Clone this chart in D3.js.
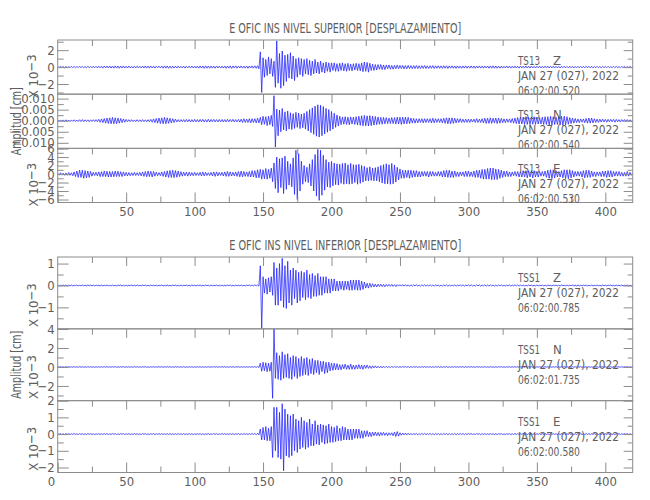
<!DOCTYPE html>
<html><head><meta charset="utf-8">
<script src="https://cdn.jsdelivr.net/npm/d3@7"></script>
<style>body{margin:0;background:#fff}svg{display:block}</style>
</head><body><svg id="c" width="650" height="500"></svg>
<script>
// ---------------- DATA ----------------
const sampleStart = 0;      // seconds
const sampleStep = 1;       // seconds between stored peaks
const xDomain = [0, 420];
const xMajorTicks = [0, 50, 100, 150, 200, 250, 300, 350, 400];
const xMinorTicks = [25, 75, 125, 175, 225, 275, 325, 375];
const topXLabels = [50, 100, 150, 200, 250, 300, 350, 400];
const bottomXLabels = [0, 50, 100, 150, 200, 250, 300, 350, 400];

const groupTitles = ["E OFIC INS NIVEL SUPERIOR [DESPLAZAMIENTO]", "E OFIC INS NIVEL INFERIOR [DESPLAZAMIENTO]"];
const yAxisTitle = "Amplitud [cm]";
const stations = ["TS13", "TS13", "TS13", "TSS1", "TSS1", "TSS1"];
const components = ["Z", "N", "E", "Z", "N", "E"];
const dateLabel = "JAN 27 (027), 2022";
const startTimes = ["06:02:00.520", "06:02:00.540", "06:02:00.530", "06:02:00.785", "06:02:01.735", "06:02:00.580"];
const yDomains = [[-3.2, 3.2], [-0.0125, 0.012], [-6.7, 6.05], [-1.98, 1.3], [-3.55, 4.02], [-2.3, 2.0]];
const yMajorSteps = [2, 0.005, 2, 1, 2, 1];
const yMinorSteps = [1, 0.0025, 1, 0.5, 1, 0.5];
const valueUnits = [1, 0.001, 1, 1, 1, 1];   // stored values are x10^-3
const yFormats = ["d", ".3f", "d", "d", "d", "d"];
const exponentLabel = [true, false, true, true, true, true];

// peak values (x10^-3 cm), one every second from t = 0
const ts13Z = [
0.05,-0.06,0.07,-0.05,0.06,-0.08,0.07,-0.06,0.05,-0.07,0.08,-0.06,0.07,-0.08,0.06,-0.05,0.07,-0.06,0.08,-0.07,
0.06,-0.08,0.09,-0.07,0.08,-0.09,0.1,-0.08,0.09,-0.1,0.11,-0.09,0.1,-0.12,0.11,-0.1,0.12,-0.11,0.13,-0.12,
0.12,-0.13,0.14,-0.12,0.13,-0.14,0.12,-0.11,0.13,-0.12,0.1,-0.11,0.12,-0.1,0.09,-0.11,0.1,-0.09,0.11,-0.1,
0.09,-0.1,0.12,-0.11,0.13,-0.12,0.11,-0.13,0.12,-0.1,0.11,-0.12,0.1,-0.09,0.11,-0.1,0.12,-0.13,0.14,-0.12,
0.13,-0.14,0.12,-0.13,0.11,-0.12,0.1,-0.11,0.12,-0.1,0.09,-0.1,0.11,-0.12,0.1,-0.09,0.11,-0.1,0.12,-0.11,
0.1,-0.11,0.12,-0.13,0.14,-0.12,0.13,-0.15,0.14,-0.13,0.12,-0.14,0.13,-0.12,0.11,-0.13,0.12,-0.11,0.1,-0.12,
0.11,-0.12,0.13,-0.14,0.12,-0.13,0.14,-0.15,0.13,-0.12,0.14,-0.13,0.12,-0.11,0.13,-0.12,0.11,-0.13,0.12,-0.14,
0.13,-0.12,0.14,-0.13,0.15,-0.14,0.16,-0.2,1.8,-3.0,1.1,-1.2,0.9,-1.0,1.2,-0.8,1.0,-1.1,0.7,-2.4,
3.1,-1.9,1.6,-2.5,1.9,-2.2,1.4,-1.7,1.5,-1.3,1.7,-1.4,1.3,-1.6,1.0,-1.2,1.1,-0.9,1.0,-1.1,
0.9,-0.8,1.0,-0.9,0.8,-1.0,0.7,-0.8,0.9,-0.7,0.6,-0.8,0.7,-0.6,0.5,-0.7,0.6,-0.5,0.5,-0.6,
0.5,-0.4,0.5,-0.5,0.4,-0.5,0.45,-0.4,0.5,-0.45,0.4,-0.5,0.45,-0.4,0.35,-0.45,0.4,-0.35,0.45,-0.4,
0.4,-0.45,0.5,-0.55,0.6,-0.5,0.55,-0.6,0.45,-0.4,0.35,-0.4,0.3,-0.35,0.3,-0.25,0.3,-0.3,0.25,-0.3,
0.25,-0.2,0.25,-0.25,0.2,-0.25,0.2,-0.2,0.25,-0.2,0.2,-0.18,0.2,-0.22,0.18,-0.2,0.2,-0.18,0.17,-0.2,
0.18,-0.17,0.19,-0.18,0.16,-0.18,0.17,-0.16,0.18,-0.17,0.15,-0.17,0.16,-0.15,0.17,-0.16,0.15,-0.14,0.16,-0.15,
0.14,-0.15,0.16,-0.14,0.15,-0.16,0.14,-0.13,0.15,-0.14,0.13,-0.15,0.14,-0.13,0.12,-0.14,0.13,-0.12,0.14,-0.13,
0.12,-0.13,0.14,-0.12,0.13,-0.14,0.12,-0.11,0.13,-0.12,0.11,-0.13,0.12,-0.11,0.12,-0.13,0.14,-0.13,0.15,-0.14,
0.13,-0.14,0.12,-0.13,0.11,-0.12,0.1,-0.11,0.12,-0.1,0.11,-0.12,0.1,-0.11,0.12,-0.11,0.1,-0.12,0.11,-0.1,
0.11,-0.1,0.12,-0.11,0.1,-0.12,0.11,-0.1,0.09,-0.11,0.1,-0.09,0.11,-0.1,0.09,-0.1,0.11,-0.09,0.1,-0.11,
0.1,-0.09,0.11,-0.1,0.09,-0.1,0.08,-0.1,0.09,-0.08,0.1,-0.09,0.08,-0.09,0.1,-0.08,0.09,-0.1,0.08,-0.09,
0.09,-0.08,0.1,-0.09,0.08,-0.09,0.1,-0.08,0.09,-0.1,0.08,-0.09,0.07,-0.08,0.09,-0.08,0.07,-0.09,0.08,-0.07,
0.08,-0.07,0.09,-0.08,0.07,-0.08,0.09,-0.07,0.08,-0.07,0.06,-0.08,0.07,-0.06,0.08,-0.07,0.06,-0.07,0.08,-0.06,
0.07];
const ts13N = [
0.3,-0.3,0.35,-0.3,0.3,-0.35,0.4,-0.35,0.3,-0.4,0.35,-0.3,0.4,-0.35,0.3,-0.4,0.45,-0.4,0.5,-0.45,
0.4,-0.35,0.4,-0.45,0.4,-0.35,0.45,-0.4,0.5,-0.45,0.6,-0.7,0.8,-0.9,1.0,-1.1,1.2,-1.3,1.3,-1.4,
1.5,-1.4,1.3,-1.4,1.2,-1.1,1.0,-0.9,0.8,-0.7,0.6,-0.5,0.45,-0.4,0.45,-0.4,0.35,-0.4,0.45,-0.4,
0.4,-0.45,0.5,-0.45,0.4,-0.5,0.45,-0.5,0.6,-0.7,0.8,-0.9,1.0,-1.1,1.2,-1.3,1.3,-1.4,1.5,-1.4,
1.3,-1.2,1.1,-1.0,0.9,-0.8,0.7,-0.6,0.5,-0.55,0.5,-0.45,0.5,-0.55,0.6,-0.5,0.55,-0.6,0.5,-0.55,
0.6,-0.55,0.5,-0.6,0.55,-0.5,0.6,-0.55,0.5,-0.6,0.65,-0.6,0.55,-0.5,0.6,-0.55,0.5,-0.6,0.55,-0.5,
0.55,-0.6,0.5,-0.55,0.6,-0.5,0.55,-0.5,0.6,-0.55,0.5,-0.55,0.6,-0.65,0.7,-0.8,0.9,-0.8,0.7,-0.8,
0.9,-1.0,0.9,-0.8,0.9,-1.0,1.1,-1.0,1.5,-1.8,2.0,-1.6,1.8,-2.2,2.0,-1.8,2.4,-2.6,11.3,-11.9,
5.2,-6.8,4.8,-5.0,5.5,-4.2,4.0,-4.6,4.4,-3.8,3.6,-4.0,3.2,-3.5,3.8,-3.0,3.4,-3.6,3.0,-3.2,
3.4,-3.8,4.2,-4.6,5.0,-5.4,5.8,-6.2,6.6,-7.0,7.2,-7.4,7.0,-6.8,6.4,-6.0,5.6,-5.2,5.0,-4.6,
4.2,-3.8,3.4,-3.0,2.6,-2.4,2.0,-1.8,1.7,-1.6,1.8,-1.7,1.6,-1.8,1.7,-1.5,1.6,-1.7,1.8,-1.9,
2.0,-2.1,2.2,-2.3,2.4,-2.3,2.2,-2.4,2.3,-2.2,2.1,-2.0,1.9,-1.8,1.7,-1.6,1.5,-1.6,1.5,-1.4,
1.4,-1.3,1.2,-1.3,1.4,-1.3,1.4,-1.5,1.6,-1.5,1.6,-1.7,1.6,-1.5,1.6,-1.4,1.5,-1.3,1.2,-1.1,
1.0,-1.1,0.9,-1.0,0.9,-0.8,0.9,-1.0,0.9,-0.8,0.9,-0.8,0.9,-1.0,1.1,-1.0,0.9,-0.8,0.9,-0.8,
0.9,-1.0,1.1,-1.2,1.3,-1.4,1.3,-1.4,1.3,-1.2,1.1,-1.0,0.9,-0.8,0.9,-0.8,0.7,-0.8,0.7,-0.8,
0.7,-0.8,0.7,-0.6,0.7,-0.8,0.9,-0.8,0.7,-0.8,0.9,-1.0,1.1,-1.2,1.1,-1.2,1.3,-1.2,1.1,-1.0,
1.2,-1.3,1.2,-1.1,1.0,-0.9,0.8,-0.9,0.8,-0.7,0.8,-0.9,1.0,-1.1,1.2,-1.3,1.4,-1.5,1.6,-1.5,
1.6,-1.7,1.8,-1.7,1.6,-1.8,1.7,-1.6,1.8,-1.7,1.6,-1.5,1.4,-1.5,1.6,-1.7,1.8,-1.7,1.8,-1.9,
2.0,-1.9,1.8,-1.7,1.6,-1.7,1.8,-1.9,2.0,-2.1,2.0,-1.9,1.8,-1.6,1.4,-1.3,1.2,-1.1,1.0,-0.9,
0.8,-0.9,0.8,-0.7,0.8,-0.9,1.0,-1.1,1.2,-1.1,1.2,-1.0,0.9,-0.8,0.7,-0.8,0.7,-0.6,0.7,-0.6,
0.6,-0.7,0.6,-0.5,0.6,-0.5,0.6,-0.7,0.6,-0.5,0.5,-0.6,0.5,-0.4,0.5,-0.4,0.5,-0.4,0.4,-0.5,
0.4];
const ts13E = [
0.2,-0.25,0.3,-0.25,0.2,-0.3,0.25,-0.3,0.35,-0.3,0.3,-0.4,0.5,-0.6,0.7,-0.8,0.9,-0.8,0.9,-1.0,
0.8,-0.9,0.7,-0.8,0.6,-0.5,0.4,-0.35,0.4,-0.45,0.5,-0.6,0.55,-0.6,0.7,-0.6,0.65,-0.7,0.6,-0.7,
0.6,-0.65,0.7,-0.6,0.65,-0.6,0.55,-0.6,0.5,-0.45,0.4,-0.45,0.35,-0.4,0.3,-0.35,0.4,-0.35,0.3,-0.35,
0.4,-0.45,0.5,-0.55,0.6,-0.65,0.7,-0.6,0.65,-0.7,0.6,-0.5,0.45,-0.4,0.35,-0.4,0.5,-0.55,0.6,-0.7,
0.75,-0.8,0.85,-0.8,0.9,-0.85,0.8,-0.75,0.7,-0.6,0.55,-0.5,0.45,-0.4,0.45,-0.5,0.45,-0.4,0.35,-0.4,
0.4,-0.35,0.3,-0.35,0.4,-0.45,0.5,-0.45,0.4,-0.35,0.3,-0.35,0.4,-0.45,0.5,-0.55,0.5,-0.45,0.4,-0.35,
0.4,-0.45,0.5,-0.55,0.6,-0.55,0.5,-0.45,0.4,-0.45,0.5,-0.55,0.6,-0.65,0.7,-0.65,0.6,-0.55,0.5,-0.6,
0.6,-0.7,0.8,-0.7,0.8,-0.9,1.0,-0.9,1.1,-1.2,1.0,-1.1,1.3,-1.2,1.1,-1.0,1.4,-1.8,2.6,-3.4,
4.0,-4.4,3.6,-3.2,3.8,-4.6,4.2,-3.6,3.0,-2.6,2.4,-3.0,3.8,-4.8,5.6,-6.0,4.8,-4.0,3.0,-2.4,
2.0,-1.8,1.6,-2.0,2.4,-2.8,3.4,-4.0,4.6,-5.2,5.8,-6.2,5.6,-5.0,4.4,-3.8,3.4,-3.0,2.8,-3.2,
3.0,-2.8,2.6,-2.5,2.4,-2.6,2.3,-2.2,2.5,-2.4,2.6,-2.3,2.2,-2.4,2.5,-2.3,2.2,-2.0,2.2,-2.4,
2.3,-2.2,2.0,-1.9,1.8,-1.6,1.5,-1.6,1.7,-1.5,1.4,-1.6,1.5,-1.6,1.7,-1.8,2.0,-2.1,2.2,-2.3,
2.4,-2.3,2.2,-2.4,2.5,-2.3,2.1,-1.9,1.6,-1.4,1.2,-1.0,0.9,-1.0,0.9,-0.8,0.9,-1.0,0.9,-0.8,
0.8,-0.7,0.8,-0.7,0.6,-0.7,0.6,-0.5,0.6,-0.5,0.6,-0.7,0.6,-0.5,0.6,-0.5,0.4,-0.5,0.6,-0.5,
0.6,-0.7,0.8,-0.7,0.9,-0.8,0.9,-0.8,0.7,-0.8,0.7,-0.6,0.5,-0.6,0.5,-0.4,0.5,-0.6,0.7,-0.6,
0.7,-0.6,0.5,-0.6,0.7,-0.8,0.9,-0.8,0.9,-1.0,1.1,-1.2,1.1,-1.2,1.3,-1.2,1.4,-1.3,1.4,-1.3,
1.2,-1.3,1.1,-1.0,0.9,-0.8,0.7,-0.6,0.7,-0.6,0.5,-0.6,0.5,-0.4,0.6,-0.5,0.6,-0.7,0.6,-0.7,
0.8,-0.7,0.8,-0.9,0.8,-0.7,0.8,-0.9,0.8,-0.7,0.6,-0.7,0.6,-0.5,0.6,-0.5,0.7,-0.8,0.9,-1.0,
1.0,-1.1,1.0,-0.9,0.8,-0.7,0.6,-0.7,0.8,-0.9,1.0,-1.1,1.0,-1.1,1.0,-0.9,0.8,-0.7,0.6,-0.5,
0.6,-0.5,0.6,-0.7,0.8,-0.9,0.9,-0.8,0.9,-0.8,0.7,-0.6,0.5,-0.6,0.5,-0.4,0.5,-0.6,0.7,-0.6,
0.7,-0.8,0.8,-0.7,0.8,-0.7,0.6,-0.5,0.6,-0.5,0.6,-0.5,0.4,-0.5,0.4,-0.5,0.6,-0.5,0.4,-0.3,
0.3];
const tss1Z = [
0.02,-0.02,0.01,-0.02,0.02,-0.01,0.02,-0.02,0.01,-0.02,0.02,-0.02,0.01,-0.01,0.02,-0.02,0.01,-0.02,0.02,-0.01,
0.01,-0.02,0.02,-0.01,0.02,-0.02,0.01,-0.02,0.02,-0.01,0.01,-0.02,0.02,-0.02,0.01,-0.01,0.02,-0.02,0.01,-0.02,
0.02,-0.02,0.01,-0.02,0.02,-0.01,0.02,-0.02,0.01,-0.02,0.02,-0.02,0.01,-0.01,0.02,-0.02,0.01,-0.02,0.02,-0.01,
0.01,-0.02,0.02,-0.01,0.02,-0.02,0.01,-0.02,0.02,-0.01,0.01,-0.02,0.02,-0.02,0.01,-0.01,0.02,-0.02,0.01,-0.02,
0.02,-0.02,0.01,-0.02,0.02,-0.01,0.02,-0.02,0.01,-0.02,0.02,-0.02,0.01,-0.01,0.02,-0.02,0.01,-0.02,0.02,-0.01,
0.01,-0.02,0.02,-0.01,0.02,-0.02,0.01,-0.02,0.02,-0.01,0.01,-0.02,0.02,-0.02,0.01,-0.01,0.02,-0.02,0.01,-0.02,
0.02,-0.02,0.01,-0.02,0.02,-0.01,0.02,-0.02,0.01,-0.02,0.02,-0.02,0.01,-0.01,0.02,-0.02,0.01,-0.02,0.02,-0.01,
0.02,-0.02,0.02,-0.02,0.03,-0.02,0.03,-0.03,0.9,-1.95,0.4,-0.35,0.3,-0.4,0.35,-0.3,0.4,-0.45,1.05,-0.9,
0.8,-0.9,1.0,-0.7,1.24,-1.0,0.9,-1.05,1.1,-0.8,0.7,-0.9,0.8,-0.6,0.7,-0.8,0.6,-0.7,0.65,-0.55,
0.6,-0.65,0.7,-0.55,0.5,-0.6,0.55,-0.5,0.45,-0.5,0.55,-0.45,0.4,-0.45,0.4,-0.35,0.4,-0.35,0.3,-0.35,
0.3,-0.25,0.3,-0.25,0.2,-0.25,0.2,-0.18,0.2,-0.22,0.2,-0.18,0.2,-0.22,0.25,-0.22,0.25,-0.2,0.25,-0.22,
0.25,-0.22,0.2,-0.18,0.15,-0.12,0.1,-0.12,0.1,-0.08,0.08,-0.07,0.06,-0.07,0.06,-0.05,0.06,-0.05,0.05,-0.06,
0.05,-0.04,0.05,-0.04,0.05,-0.04,0.04,-0.05,0.04,-0.03,0.04,-0.03,0.04,-0.03,0.04,-0.03,0.03,-0.04,0.03,-0.03,
0.03,-0.02,0.03,-0.03,0.02,-0.03,0.03,-0.02,0.03,-0.03,0.02,-0.02,0.03,-0.03,0.02,-0.03,0.03,-0.02,0.02,-0.03,
0.02,-0.03,0.03,-0.02,0.03,-0.03,0.02,-0.03,0.02,-0.02,0.03,-0.03,0.02,-0.02,0.03,-0.02,0.03,-0.03,0.02,-0.02,
0.03,-0.02,0.03,-0.03,0.02,-0.03,0.03,-0.02,0.03,-0.03,0.02,-0.02,0.03,-0.03,0.02,-0.03,0.03,-0.02,0.02,-0.03,
0.02,-0.03,0.03,-0.02,0.03,-0.03,0.02,-0.03,0.02,-0.02,0.03,-0.03,0.02,-0.02,0.03,-0.02,0.03,-0.03,0.02,-0.02,
0.02,-0.02,0.01,-0.02,0.02,-0.01,0.02,-0.02,0.01,-0.02,0.02,-0.02,0.01,-0.01,0.02,-0.02,0.01,-0.02,0.02,-0.01,
0.01,-0.02,0.02,-0.01,0.02,-0.02,0.01,-0.02,0.02,-0.01,0.01,-0.02,0.02,-0.02,0.01,-0.01,0.02,-0.02,0.01,-0.02,
0.02,-0.02,0.01,-0.02,0.02,-0.01,0.02,-0.02,0.01,-0.02,0.02,-0.02,0.01,-0.01,0.02,-0.02,0.01,-0.02,0.02,-0.01,
0.01,-0.02,0.02,-0.01,0.02,-0.02,0.01,-0.02,0.02,-0.01,0.01,-0.02,0.02,-0.02,0.01,-0.01,0.02,-0.02,0.01,-0.02,
0.02];
const tss1N = [
0.03,-0.02,0.03,-0.03,0.02,-0.03,0.03,-0.02,0.03,-0.03,0.02,-0.02,0.03,-0.03,0.02,-0.03,0.03,-0.02,0.02,-0.03,
0.02,-0.03,0.03,-0.02,0.03,-0.03,0.02,-0.03,0.02,-0.02,0.03,-0.03,0.02,-0.02,0.03,-0.02,0.03,-0.03,0.02,-0.02,
0.03,-0.02,0.03,-0.03,0.02,-0.03,0.03,-0.02,0.03,-0.03,0.02,-0.02,0.03,-0.03,0.02,-0.03,0.03,-0.02,0.02,-0.03,
0.02,-0.03,0.03,-0.02,0.03,-0.03,0.02,-0.03,0.02,-0.02,0.03,-0.03,0.02,-0.02,0.03,-0.02,0.03,-0.03,0.02,-0.02,
0.03,-0.02,0.03,-0.03,0.02,-0.03,0.03,-0.02,0.03,-0.03,0.02,-0.02,0.03,-0.03,0.02,-0.03,0.03,-0.02,0.02,-0.03,
0.02,-0.03,0.03,-0.02,0.03,-0.03,0.02,-0.03,0.02,-0.02,0.03,-0.03,0.02,-0.02,0.03,-0.02,0.03,-0.03,0.02,-0.02,
0.03,-0.02,0.03,-0.03,0.02,-0.03,0.03,-0.02,0.03,-0.03,0.02,-0.02,0.03,-0.03,0.02,-0.03,0.03,-0.02,0.02,-0.03,
0.03,-0.03,0.03,-0.03,0.04,-0.03,0.04,-0.05,0.4,-0.45,0.5,-0.4,0.45,-0.5,0.4,-0.45,0.5,-3.3,4.0,-1.2,
1.5,-1.3,1.2,-1.4,1.6,-1.2,1.3,-1.1,1.4,-1.2,1.0,-1.3,1.2,-1.0,1.1,-1.2,0.9,-1.0,1.1,-0.9,
0.9,-0.8,1.0,-0.9,0.8,-0.7,0.9,-0.8,0.7,-0.6,0.7,-0.8,0.6,-0.5,0.6,-0.7,0.5,-0.6,0.5,-0.4,
0.4,-0.35,0.4,-0.3,0.35,-0.3,0.25,-0.3,0.25,-0.2,0.3,-0.25,0.2,-0.25,0.3,-0.25,0.2,-0.25,0.2,-0.2,
0.25,-0.2,0.2,-0.25,0.2,-0.15,0.2,-0.15,0.12,-0.15,0.12,-0.1,0.12,-0.1,0.08,-0.1,0.08,-0.1,0.08,-0.07,
0.08,-0.07,0.06,-0.07,0.06,-0.05,0.06,-0.05,0.05,-0.06,0.05,-0.04,0.05,-0.04,0.05,-0.04,0.04,-0.05,0.04,-0.04,
0.04,-0.03,0.04,-0.04,0.03,-0.04,0.04,-0.03,0.04,-0.04,0.03,-0.03,0.04,-0.04,0.03,-0.04,0.04,-0.03,0.03,-0.04,
0.03,-0.04,0.04,-0.03,0.04,-0.04,0.03,-0.04,0.03,-0.03,0.04,-0.04,0.03,-0.03,0.04,-0.03,0.04,-0.04,0.03,-0.03,
0.03,-0.02,0.03,-0.03,0.02,-0.03,0.03,-0.02,0.03,-0.03,0.02,-0.02,0.03,-0.03,0.02,-0.03,0.03,-0.02,0.02,-0.03,
0.02,-0.03,0.03,-0.02,0.03,-0.03,0.02,-0.03,0.02,-0.02,0.03,-0.03,0.02,-0.02,0.03,-0.02,0.03,-0.03,0.02,-0.02,
0.03,-0.02,0.03,-0.03,0.02,-0.03,0.03,-0.02,0.03,-0.03,0.02,-0.02,0.03,-0.03,0.02,-0.03,0.03,-0.02,0.02,-0.03,
0.02,-0.03,0.03,-0.02,0.03,-0.03,0.02,-0.03,0.02,-0.02,0.03,-0.03,0.02,-0.02,0.03,-0.02,0.03,-0.03,0.02,-0.02,
0.03,-0.02,0.03,-0.03,0.02,-0.03,0.03,-0.02,0.03,-0.03,0.02,-0.02,0.03,-0.03,0.02,-0.03,0.03,-0.02,0.02,-0.03,
0.02,-0.03,0.03,-0.02,0.03,-0.03,0.02,-0.03,0.02,-0.02,0.03,-0.03,0.02,-0.02,0.03,-0.02,0.03,-0.03,0.02,-0.02,
0.03];
const tss1E = [
0.03,-0.02,0.03,-0.03,0.02,-0.03,0.03,-0.02,0.03,-0.03,0.02,-0.02,0.03,-0.03,0.02,-0.03,0.03,-0.02,0.02,-0.03,
0.02,-0.03,0.03,-0.02,0.03,-0.03,0.02,-0.03,0.02,-0.02,0.03,-0.03,0.02,-0.02,0.03,-0.02,0.03,-0.03,0.02,-0.02,
0.03,-0.02,0.03,-0.03,0.02,-0.03,0.03,-0.02,0.03,-0.03,0.02,-0.02,0.03,-0.03,0.02,-0.03,0.03,-0.02,0.02,-0.03,
0.02,-0.03,0.03,-0.02,0.03,-0.03,0.02,-0.03,0.02,-0.02,0.03,-0.03,0.02,-0.02,0.03,-0.02,0.03,-0.03,0.02,-0.02,
0.03,-0.02,0.03,-0.03,0.02,-0.03,0.03,-0.02,0.03,-0.03,0.02,-0.02,0.03,-0.03,0.02,-0.03,0.03,-0.02,0.02,-0.03,
0.02,-0.03,0.03,-0.02,0.03,-0.03,0.02,-0.03,0.02,-0.02,0.03,-0.03,0.02,-0.02,0.03,-0.02,0.03,-0.03,0.02,-0.02,
0.03,-0.02,0.03,-0.03,0.02,-0.03,0.03,-0.02,0.03,-0.03,0.02,-0.02,0.03,-0.03,0.02,-0.03,0.03,-0.02,0.02,-0.03,
0.03,-0.03,0.04,-0.03,0.04,-0.04,0.05,-0.05,0.3,-0.35,0.4,-0.35,0.45,-0.4,0.35,-0.4,0.45,-1.4,1.6,-1.0,
1.6,-1.4,1.3,-1.5,1.82,-2.2,1.5,-1.3,1.2,-1.4,1.1,-1.3,1.2,-1.0,0.9,-1.1,0.8,-0.9,1.0,-0.8,
0.8,-0.9,0.7,-0.8,0.9,-0.7,0.6,-0.7,0.8,-0.6,0.55,-0.65,0.6,-0.5,0.55,-0.6,0.5,-0.55,0.6,-0.5,
0.45,-0.5,0.4,-0.45,0.5,-0.4,0.35,-0.4,0.45,-0.35,0.4,-0.35,0.3,-0.35,0.3,-0.35,0.3,-0.25,0.3,-0.25,
0.3,-0.25,0.2,-0.25,0.2,-0.15,0.2,-0.15,0.12,-0.15,0.12,-0.1,0.12,-0.1,0.1,-0.12,0.1,-0.08,0.1,-0.08,
0.08,-0.1,0.08,-0.07,0.08,-0.1,0.12,-0.15,0.15,-0.12,0.08,-0.07,0.06,-0.05,0.06,-0.05,0.05,-0.05,0.04,-0.05,
0.04,-0.03,0.04,-0.04,0.03,-0.04,0.04,-0.03,0.04,-0.04,0.03,-0.03,0.04,-0.04,0.03,-0.04,0.04,-0.03,0.03,-0.04,
0.03,-0.04,0.04,-0.03,0.04,-0.04,0.03,-0.04,0.03,-0.03,0.04,-0.04,0.03,-0.03,0.04,-0.03,0.04,-0.04,0.03,-0.03,
0.03,-0.02,0.03,-0.03,0.02,-0.03,0.03,-0.02,0.03,-0.03,0.02,-0.02,0.03,-0.03,0.02,-0.03,0.03,-0.02,0.02,-0.03,
0.02,-0.03,0.03,-0.02,0.03,-0.03,0.02,-0.03,0.02,-0.02,0.03,-0.03,0.02,-0.02,0.03,-0.02,0.03,-0.03,0.02,-0.02,
0.03,-0.02,0.03,-0.03,0.02,-0.03,0.03,-0.02,0.03,-0.03,0.02,-0.02,0.03,-0.03,0.02,-0.03,0.03,-0.02,0.02,-0.03,
0.02,-0.03,0.03,-0.02,0.03,-0.03,0.02,-0.03,0.02,-0.02,0.03,-0.03,0.02,-0.02,0.03,-0.02,0.03,-0.03,0.02,-0.02,
0.03,-0.02,0.03,-0.03,0.02,-0.03,0.03,-0.02,0.03,-0.03,0.02,-0.02,0.03,-0.03,0.02,-0.03,0.03,-0.02,0.02,-0.03,
0.02,-0.03,0.03,-0.02,0.03,-0.03,0.02,-0.03,0.02,-0.02,0.03,-0.03,0.02,-0.02,0.03,-0.02,0.03,-0.03,0.02,-0.02,
0.03];
const traces = [ts13Z, ts13N, ts13E, tss1Z, tss1N, tss1E];

// ---------------- DRAWING ----------------
const AXIS = "#8c8c8c", TEXT = "#5e5e5e", TRACE = "#2020ff";
const FONT = "'Liberation Sans Narrow','DejaVu Sans Condensed','Arial Narrow',sans-serif";
const plotLeft = 57.7, plotRight = 632.7;
const groupBoxes = [{top: 40, bottom: 202.5, labels: topXLabels}, {top: 257, bottom: 472.5, labels: bottomXLabels}];

const svg = d3.select("#c").style("font-family", FONT);
const x = d3.scaleLinear().domain(xDomain).range([plotLeft, plotRight]);

function stepTicks(dom, step) {
  const lo = Math.ceil(dom[0] / step - 1e-9), hi = Math.floor(dom[1] / step + 1e-9);
  return d3.range(lo, hi + 1).map(k => +(k * step).toFixed(6));
}
function styleAxis(g) {
  g.select(".domain").remove();
  g.selectAll("line").attr("stroke", AXIS).attr("stroke-width", 1);
  g.selectAll("text").attr("fill", TEXT).style("font-family", FONT).style("font-size", "13px");
}

groupBoxes.forEach((gb, gi) => {
  svg.append("text").attr("x", (plotLeft + plotRight) / 2).attr("y", gb.top - 6.7)
    .attr("text-anchor", "middle").attr("fill", TEXT).style("font-size", "13.5px")
    .attr("textLength", 232).attr("lengthAdjust", "spacingAndGlyphs")
    .text(groupTitles[gi]);
  svg.append("text")
    .attr("transform", `translate(20.5,${(gb.top + gb.bottom) / 2}) rotate(-90)`)
    .attr("text-anchor", "middle").attr("fill", TEXT).style("font-size", "14px")
    .attr("textLength", 68).attr("lengthAdjust", "spacingAndGlyphs")
    .text(yAxisTitle);
});

traces.forEach((data, i) => {
  const gi = Math.floor(i / 3), j = i % 3, gb = groupBoxes[gi];
  const h = (gb.bottom - gb.top) / 3;
  const y0 = gb.top + j * h, y1 = y0 + h;
  const y = d3.scaleLinear().domain(yDomains[i]).range([y1, y0]);
  const g = svg.append("g");

  // clip + trace
  const cid = "clip" + i;
  svg.append("clipPath").attr("id", cid).append("rect")
    .attr("x", plotLeft).attr("y", y0).attr("width", plotRight - plotLeft).attr("height", h);
  const line = d3.line()
    .x((d, k) => x(sampleStart + k * sampleStep))
    .y(d => y(d * valueUnits[i]));
  g.append("path").datum(data).attr("clip-path", `url(#${cid})`)
    .attr("d", line).attr("fill", "none").attr("stroke", TRACE)
    .attr("stroke-width", 0.8).attr("stroke-linejoin", "round").attr("opacity", 0.95);

  // frame
  g.append("rect").attr("x", plotLeft).attr("y", y0).attr("width", plotRight - plotLeft).attr("height", h)
    .attr("fill", "none").attr("stroke", AXIS).attr("stroke-width", 1);

  // y axes
  const major = stepTicks(yDomains[i], yMajorSteps[i]);
  const minor = stepTicks(yDomains[i], yMinorSteps[i]).filter(v => !major.some(m => Math.abs(m - v) < 1e-9));
  const fmt = d3.format(yFormats[i]);
  g.append("g").attr("transform", `translate(${plotLeft},0)`)
    .call(d3.axisLeft(y).tickValues(major).tickSize(-11).tickPadding(3).tickFormat(fmt)).call(styleAxis);
  g.append("g").attr("transform", `translate(${plotLeft},0)`)
    .call(d3.axisLeft(y).tickValues(minor).tickSize(-6).tickFormat("")).call(styleAxis);
  g.append("g").attr("transform", `translate(${plotRight},0)`)
    .call(d3.axisRight(y).tickValues(major).tickSize(-9).tickFormat("")).call(styleAxis);
  g.append("g").attr("transform", `translate(${plotRight},0)`)
    .call(d3.axisRight(y).tickValues(minor).tickSize(-5).tickFormat("")).call(styleAxis);

  // x ticks on top of each panel
  g.append("g").attr("transform", `translate(0,${y0})`)
    .call(d3.axisTop(x).tickValues(xMajorTicks.filter(v => v > xDomain[0])).tickSize(-9).tickFormat("")).call(styleAxis);
  g.append("g").attr("transform", `translate(0,${y0})`)
    .call(d3.axisTop(x).tickValues(xMinorTicks).tickSize(-6).tickFormat("")).call(styleAxis);

  // exponent label
  if (exponentLabel[i]) {
    const t = svg.append("text")
      .attr("transform", `translate(37.5,${(y0 + y1) / 2 + 0.17 * h}) rotate(-90)`)
      .attr("text-anchor", "middle").attr("fill", TEXT).style("font-size", "13px");
    t.append("tspan").text("X 10");
    t.append("tspan").attr("dy", -2).text("\u22123");
  }

  // station annotation
  const ann = svg.append("g").attr("fill", TEXT).style("font-size", "13px");
  ann.append("text").attr("x", 518).attr("y", y0 + 25)
    .attr("textLength", 22).attr("lengthAdjust", "spacingAndGlyphs").text(stations[i]);
  ann.append("text").attr("x", 553).attr("y", y0 + 25).text(components[i]);
  ann.append("text").attr("x", 518).attr("y", y0 + 40)
    .attr("textLength", 101).attr("lengthAdjust", "spacingAndGlyphs").text(dateLabel);
  ann.append("text").attr("x", 518).attr("y", y0 + 55)
    .attr("textLength", 62).attr("lengthAdjust", "spacingAndGlyphs").text(startTimes[i]);

  // bottom x axis of each group
  if (j === 2) {
    const ax = g.append("g").attr("transform", `translate(0,${y1})`)
      .call(d3.axisBottom(x).tickValues(xMajorTicks).tickSize(-10).tickPadding(4)
        .tickFormat(d => gb.labels.includes(d) ? d : "")).call(styleAxis);
    ax.selectAll(".tick").filter(d => d === xDomain[0]).select("text")
      .attr("text-anchor", "end").attr("dx", -3);
    g.append("g").attr("transform", `translate(0,${y1})`)
      .call(d3.axisBottom(x).tickValues(xMinorTicks).tickSize(-6).tickFormat("")).call(styleAxis);
  }
});
</script>
</body></html>
